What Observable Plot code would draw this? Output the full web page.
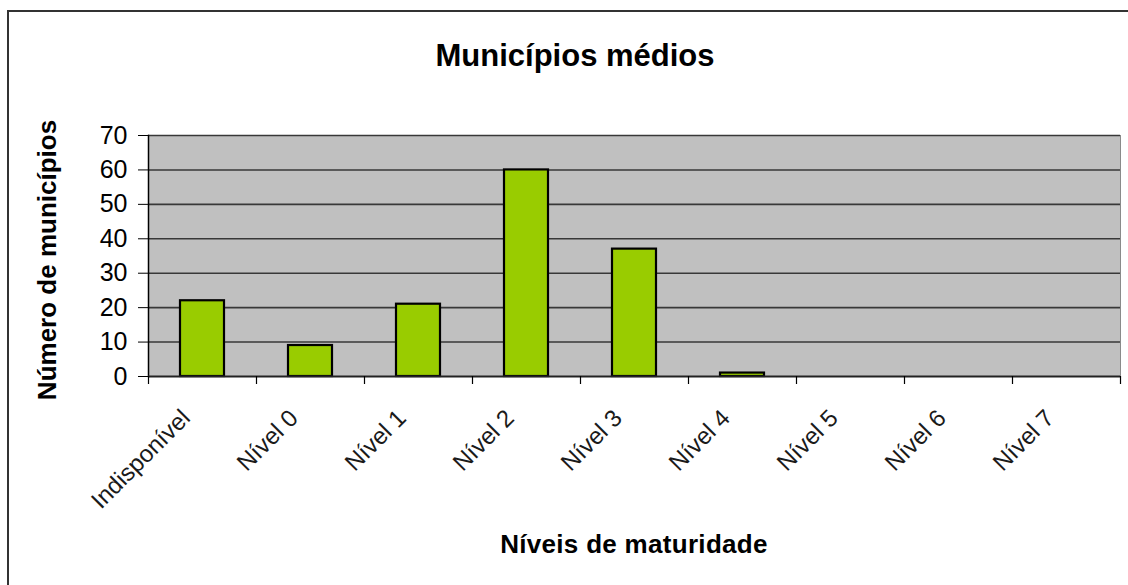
<!DOCTYPE html>
<html>
<head>
<meta charset="utf-8">
<script src="https://cdn.jsdelivr.net/npm/d3@7"></script>
<script src="https://cdn.jsdelivr.net/npm/@observablehq/plot@0.6"></script>
<style>
  html, body { margin: 0; padding: 0; background: #fff; overflow: hidden; }
  #wrap { position: relative; width: 1128px; height: 585px; overflow: hidden; font-family: "Liberation Sans", Arial, sans-serif; color: #000; }
  #border { position: absolute; left: 7px; top: 10px; width: 1300px; height: 800px; border: 2px solid #333; box-sizing: border-box; }
  #chart { position: absolute; left: 0; top: 0; }
  .lbl { position: absolute; font-weight: bold; white-space: nowrap; line-height: 1; }
  #title { font-size: 31px; left: 575px; top: 40px; transform: translateX(-50%); }
  #xlabel { font-size: 26px; left: 634px; top: 531px; transform: translateX(-50%); letter-spacing: 0.3px; }
  #ylabel { font-size: 26px; left: 47px; top: 260px; transform: translate(-50%, -50%) rotate(-90deg); transform-origin: center; }
</style>
</head>
<body>
<div id="wrap">
  <div id="border"></div>
  <div id="chart"></div>
  <div id="title" class="lbl">Municípios médios</div>
  <div id="ylabel" class="lbl">Número de municípios</div>
  <div id="xlabel" class="lbl">Níveis de maturidade</div>
</div>
<script>
const categories = ["Indisponível", "Nível 0", "Nível 1", "Nível 2", "Nível 3", "Nível 4", "Nível 5", "Nível 6", "Nível 7"];
const counts = [22, 9, 21, 60, 37, 1, 0, 0, 0];
const yTicks = [0, 10, 20, 30, 40, 50, 60, 70];

const data = categories.map((c, i) => ({cat: c, n: counts[i]}));
const W = 1128, H = 585, ML = 148, MR = 8, MT = 135, MB = 209;
const step = (W - ML - MR) / categories.length;

const chart = Plot.plot({
  width: W,
  height: H,
  marginLeft: ML,
  marginRight: MR,
  marginTop: MT,
  marginBottom: MB,
  style: {fontFamily: "'Liberation Sans', Arial, sans-serif", color: "#000", background: "transparent"},
  x: {domain: categories, paddingInner: 0.59, paddingOuter: 0.295, axis: null},
  y: {domain: [0, 70], axis: null},
  marks: [
    Plot.frame({fill: "#c0c0c0", stroke: null}),
    Plot.gridY(yTicks.filter(d => d > 0), {stroke: "#383838", strokeOpacity: 1, strokeWidth: 1.6}),
    Plot.frame({anchor: "right", stroke: "#8a8a8a", strokeWidth: 1}),
    Plot.barY(data, {x: "cat", y: "n", fill: "#99cc00", stroke: "#000", strokeWidth: 2.2}),
    Plot.frame({anchor: "left", stroke: "#000", strokeWidth: 1.5}),
    Plot.ruleY([0], {stroke: "#222", strokeWidth: 2}),
    Plot.axisY(yTicks, {anchor: "left", label: null, tickSize: 10, tickPadding: 11, fontSize: 25, stroke: "#000", fill: "#000"}),
    Plot.ruleX(categories, {x: d => d, y1: 0, y2: 0, insetBottom: -8, dx: -step / 2, stroke: "#000", strokeWidth: 1.2}),
    Plot.ruleX(categories.slice(-1), {x: d => d, y1: 0, y2: 0, insetBottom: -8, dx: step / 2, stroke: "#000", strokeWidth: 1.2}),
    Plot.text(categories, {x: d => d, y: 0, text: d => d, rotate: -45, textAnchor: "end", lineAnchor: "bottom", dx: -11, dy: 43, fontSize: 24, fill: "#1a1a1a"})
  ]
});
document.getElementById("chart").appendChild(chart);
</script>
</body>
</html>
